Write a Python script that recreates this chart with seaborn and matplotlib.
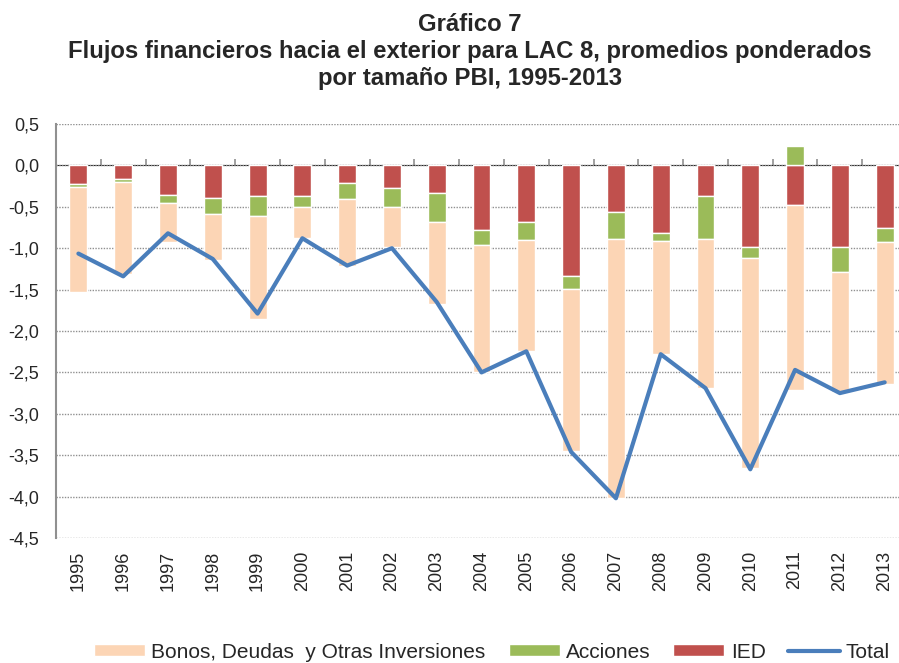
import numpy as np
import pandas as pd
import matplotlib
matplotlib.use("Agg")
import matplotlib.pyplot as plt
import seaborn as sns
from matplotlib.patches import Patch
from matplotlib.lines import Line2D

years = [str(y) for y in range(1995, 2014)]
ied = [-0.23, -0.17, -0.36, -0.39, -0.375, -0.375, -0.21, -0.27, -0.335, -0.78,
       -0.685, -1.33, -0.565, -0.82, -0.37, -0.98, -0.476, -0.99, -0.76]
acciones = [-0.03, -0.03, -0.09, -0.20, -0.235, -0.125, -0.20, -0.23, -0.35, -0.18,
            -0.22, -0.16, -0.32, -0.095, -0.52, -0.14, 0.24, -0.30, -0.17]
bonos = [-1.27, -1.11, -0.47, -0.55, -1.24, -0.375, -0.80, -0.49, -0.985, -1.54,
         -1.34, -1.96, -3.13, -1.365, -1.80, -2.54, -2.24, -1.45, -1.71]
total = [-1.065, -1.34, -0.82, -1.13, -1.79, -0.88, -1.21, -1.00, -1.65, -2.50,
         -2.245, -3.46, -4.02, -2.28, -2.69, -3.67, -2.47, -2.75, -2.62]

c_bonos = "#FCD5B5"
c_acc = "#9BBB59"
c_ied = "#C0504D"
c_total = "#4A7EBB"

df = pd.DataFrame({"year": years, "ied": ied, "acciones": acciones,
                   "bonos": bonos, "total": total})
df["pos"] = np.arange(len(df))
# stacking like Excel: negatives go down from IED, positives go up from 0
df["acc_bottom"] = np.where(df["acciones"] < 0, df["ied"], 0)
df["bonos_bottom"] = df["ied"] + np.minimum(df["acciones"], 0)

sns.set_style("white")
plt.rcParams["font.family"] = ["Liberation Sans", "DejaVu Sans"]

fig = plt.figure(figsize=(8.99, 6.63), dpi=100)
ax = fig.add_axes([56 / 899, 1 - 538 / 663, 843 / 899, (538 - 124) / 663])

w = 0.4
ax.bar(df["pos"], df["ied"], width=w, color=c_ied, zorder=3)
ax.bar(df["pos"], df["acciones"], bottom=df["acc_bottom"], width=w, color=c_acc, zorder=3)
ax.bar(df["pos"], df["bonos"], bottom=df["bonos_bottom"], width=w, color=c_bonos, zorder=3)
sns.lineplot(data=df, x="pos", y="total", color=c_total, linewidth=3, ax=ax, zorder=4)

ax.set_xlim(-0.5, 18.32)
ax.set_ylim(-4.5, 0.5)
yt = np.arange(-4.5, 0.51, 0.5)
ax.set_yticks(yt)
ax.set_yticklabels([f"{v:.1f}".replace(".", ",") for v in yt], fontsize=13)
ax.set_xticks(df["pos"])
ax.set_xticklabels(df["year"], rotation=90, fontsize=13)
ax.tick_params(axis="x", length=0, pad=9)
ax.tick_params(axis="y", length=3, width=1.2, color="#909090", direction="out", pad=9)
ax.set_xlabel("")
ax.set_ylabel("")

ax.yaxis.grid(True, linestyle=(0, (1, 1)), color="#909090", linewidth=1)
ax.set_axisbelow(True)
for s in ["top", "right", "bottom"]:
    ax.spines[s].set_visible(False)
ax.spines["left"].set_color("#909090")
ax.spines["left"].set_linewidth(1.5)

# category axis crossing at zero
sec = ax.secondary_xaxis(0.9)
sec.set_xticks(np.arange(0.5, 18.5, 1))
sec.set_xticklabels([])
sec.tick_params(axis="x", direction="out", length=4, width=1.2, color="#909090")
sec.spines["bottom"].set_color("#909090")
sec.spines["bottom"].set_linewidth(2)
sec.spines["bottom"].set_zorder(5)

fig.text(0.523, 1 - 13 / 663,
         "Gráfico 7\nFlujos financieros hacia el exterior para LAC 8, promedios ponderados\npor tamaño PBI, 1995-2013",
         ha="center", va="top", fontsize=17.2, fontweight="bold", linespacing=1.23)

handles = [Patch(facecolor=c_bonos, label="Bonos, Deudas  y Otras Inversiones"),
           Patch(facecolor=c_acc, label="Acciones"),
           Patch(facecolor=c_ied, label="IED"),
           Line2D([0], [0], color=c_total, linewidth=3, label="Total")]
fig.legend(handles=handles, loc="center", bbox_to_anchor=(492 / 899, 1 - 652 / 663),
           ncol=4, frameon=False, fontsize=15, handlelength=2.45, handleheight=0.56,
           handletextpad=0.3, columnspacing=1.1, borderpad=0)

fig.savefig("out.png", dpi=100)
